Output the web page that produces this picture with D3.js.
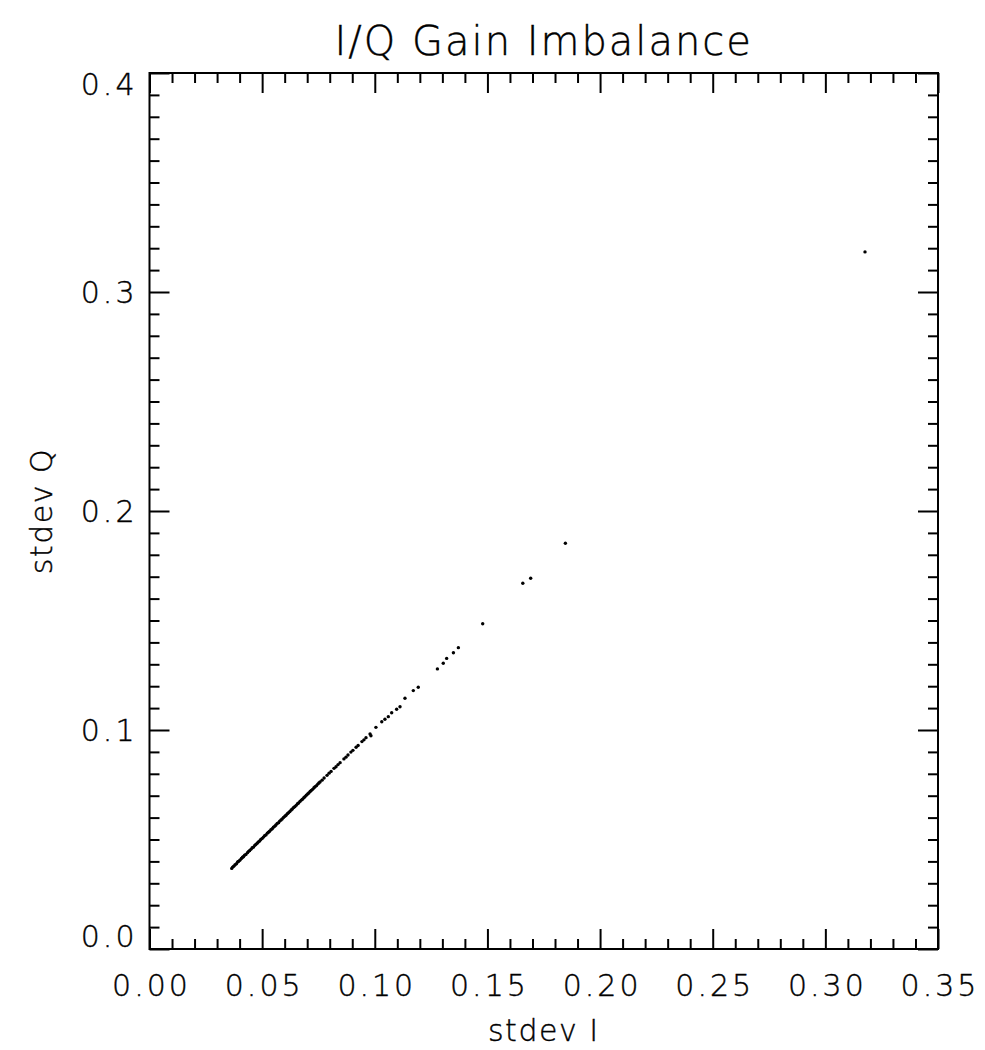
<!DOCTYPE html>
<html>
<head>
<meta charset="utf-8">
<script src="https://cdn.jsdelivr.net/npm/d3@7"></script>
<style>
  html, body { margin: 0; padding: 0; background: #fff; }
  svg { display: block; }
  text { font-family: "DejaVu Sans", "Liberation Sans", sans-serif; fill: #000; }
</style>
</head>
<body>
<svg id="chart" width="985" height="1050"></svg>
<script>
// ---- data ----
const chartTitle = "I/Q Gain Imbalance";
const xTitle = "stdev I";
const yTitle = "stdev Q";
const xTickValues = [0.00, 0.05, 0.10, 0.15, 0.20, 0.25, 0.30, 0.35];
const xTickLabels = ["0.00", "0.05", "0.10", "0.15", "0.20", "0.25", "0.30", "0.35"];
const yTickValues = [0.0, 0.1, 0.2, 0.3, 0.4];
const yTickLabels = ["0.0", "0.1", "0.2", "0.3", "0.4"];

// [stdev I, stdev Q] — dense part of the cloud
const lineCore = [
  [0.0365,0.0368],[0.0369,0.0374],[0.0374,0.0378],[0.0380,0.0385],[0.0386,0.0389],[0.0391,0.0397],
  [0.0395,0.0400],[0.0401,0.0405],[0.0408,0.0413],[0.0413,0.0419],[0.0417,0.0421],[0.0422,0.0428],
  [0.0428,0.0432],[0.0435,0.0440],[0.0440,0.0446],[0.0444,0.0449],[0.0450,0.0455],[0.0456,0.0462],
  [0.0461,0.0465],[0.0467,0.0473],[0.0472,0.0477],[0.0478,0.0483],[0.0483,0.0489],[0.0489,0.0493],
  [0.0494,0.0500],[0.0500,0.0505],[0.0506,0.0511],[0.0511,0.0517],[0.0517,0.0521],[0.0523,0.0529],
  [0.0528,0.0533],[0.0533,0.0538],[0.0539,0.0545],[0.0545,0.0549],[0.0550,0.0556],[0.0556,0.0561],
  [0.0561,0.0566],[0.0567,0.0573],[0.0573,0.0577],[0.0578,0.0584],[0.0584,0.0589],[0.0589,0.0594],
  [0.0595,0.0601],[0.0601,0.0606],[0.0606,0.0611],[0.0612,0.0618],[0.0617,0.0622],[0.0623,0.0628],
  [0.0629,0.0635],[0.0634,0.0639],[0.0640,0.0646],[0.0645,0.0650],[0.0651,0.0656],[0.0657,0.0663],
  [0.0662,0.0667],[0.0668,0.0674],[0.0674,0.0680],[0.0679,0.0684],[0.0685,0.0691],[0.0690,0.0695],
  [0.0696,0.0702],[0.0702,0.0708],[0.0707,0.0712],[0.0713,0.0719],[0.0718,0.0724],[0.0724,0.0729],
  [0.0730,0.0736],[0.0735,0.0741],[0.0741,0.0746],[0.0747,0.0753],[0.0752,0.0758]
];
// dashed-looking middle stretch
const lineMid = [
  [0.0757,0.0763],[0.0766,0.0771],[0.0775,0.0781],[0.0788,0.0793],[0.0797,0.0803],[0.0806,0.0811],
  [0.0819,0.0825],[0.0828,0.0832],[0.0837,0.0842],[0.0846,0.0851],[0.0863,0.0868],[0.0872,0.0876],
  [0.0881,0.0886],[0.0894,0.0899],[0.0903,0.0907],[0.0917,0.0921],[0.0926,0.0929],[0.0943,0.0947],
  [0.0952,0.0955],[0.0961,0.0965],[0.0979,0.0982]
];
// sparse upper points
const lineSparse = [
  [0.0983,0.0974],[0.1005,0.1012],[0.1031,0.1038],[0.1045,0.1049],[0.1060,0.1061],[0.1075,0.1079],
  [0.1097,0.1095],[0.1112,0.1106],[0.1134,0.1145],[0.1171,0.1180],[0.1193,0.1195],[0.1278,0.1279],
  [0.1304,0.1305],[0.1319,0.1327],[0.1349,0.1353],[0.1371,0.1376],[0.1479,0.1485],[0.1657,0.1670],
  [0.1692,0.1693],[0.1846,0.1853],[0.3176,0.3183]
];

// ---- layout ----
const svg = d3.select("#chart");
const L = 149.5, R = 938, T = 73, B = 949;
const x = d3.scaleLinear().domain([0, 0.35]).range([L, R]);
const y = d3.scaleLinear().domain([0, 0.4]).range([B, T]);

const xMinor = d3.range(0, 36).map(d => d / 100).filter(v => Math.round(v * 100) % 5 !== 0);
const yMinor = d3.range(0, 41).map(d => d / 100).filter(v => Math.round(v * 100) % 10 !== 0);

const majorLen = 20, minorLen = 10;
const fontTick = 30;

function styleAxis(g) {
  g.select(".domain").remove();
  g.selectAll(".tick line").attr("stroke", "#000").attr("stroke-width", 2);
}

// bottom axis (major with labels)
const gB = svg.append("g").attr("transform", `translate(0,${B})`)
  .call(d3.axisBottom(x).tickValues(xTickValues).tickFormat((d, i) => xTickLabels[i])
    .tickSizeInner(-majorLen).tickSizeOuter(0).tickPadding(26));
styleAxis(gB);
gB.selectAll("text").attr("font-size", fontTick).attr("letter-spacing", 3)
  .attr("font-family", "DejaVu Sans").attr("font-weight", 200).attr("dx", 1.5)
  .attr("stroke", "#000").attr("stroke-width", 0.4);
svg.append("g").attr("transform", `translate(0,${B})`)
  .call(d3.axisBottom(x).tickValues(xMinor).tickFormat("").tickSizeInner(-minorLen).tickSizeOuter(0)).call(styleAxis);

// top axis
svg.append("g").attr("transform", `translate(0,${T})`)
  .call(d3.axisTop(x).tickValues(xTickValues).tickFormat("").tickSizeInner(-majorLen).tickSizeOuter(0)).call(styleAxis);
svg.append("g").attr("transform", `translate(0,${T})`)
  .call(d3.axisTop(x).tickValues(xMinor).tickFormat("").tickSizeInner(-minorLen).tickSizeOuter(0)).call(styleAxis);

// left axis (major with labels)
const gL = svg.append("g").attr("transform", `translate(${L},0)`)
  .call(d3.axisLeft(y).tickValues(yTickValues).tickFormat((d, i) => yTickLabels[i])
    .tickSizeInner(-majorLen).tickSizeOuter(0).tickPadding(12));
styleAxis(gL);
gL.selectAll("text").attr("font-size", fontTick).attr("letter-spacing", 3)
  .attr("font-family", "DejaVu Sans").attr("font-weight", 200)
  .attr("stroke", "#000").attr("stroke-width", 0.4)
  .attr("dy", d => d === 0 ? "-0.08em" : (d === 0.4 ? "0.72em" : "0.36em"));
svg.append("g").attr("transform", `translate(${L},0)`)
  .call(d3.axisLeft(y).tickValues(yMinor).tickFormat("").tickSizeInner(-minorLen).tickSizeOuter(0)).call(styleAxis);

// right axis
svg.append("g").attr("transform", `translate(${R},0)`)
  .call(d3.axisRight(y).tickValues(yTickValues).tickFormat("").tickSizeInner(-majorLen).tickSizeOuter(0)).call(styleAxis);
svg.append("g").attr("transform", `translate(${R},0)`)
  .call(d3.axisRight(y).tickValues(yMinor).tickFormat("").tickSizeInner(-minorLen).tickSizeOuter(0)).call(styleAxis);

// frame
svg.append("rect").attr("x", L).attr("y", T).attr("width", R - L).attr("height", B - T)
  .attr("fill", "none").attr("stroke", "#000").attr("stroke-width", 2);

// points
const allPts = lineCore.concat(lineMid, lineSparse);
svg.append("g").selectAll("circle").data(allPts).join("circle")
  .attr("cx", d => x(d[0])).attr("cy", d => y(d[1])).attr("r", 1.7).attr("fill", "#000");

// titles
svg.append("text").attr("x", (L + R) / 2).attr("y", 55).attr("text-anchor", "middle")
  .attr("font-size", 40).attr("font-weight", 200).attr("letter-spacing", 2)
  .attr("stroke", "#000").attr("stroke-width", 0.4).text(chartTitle);
svg.append("text").attr("x", (L + R) / 2).attr("y", 1041).attr("text-anchor", "middle")
  .attr("font-size", 30).attr("font-weight", 200).attr("letter-spacing", 1.5)
  .attr("stroke", "#000").attr("stroke-width", 0.4).text(xTitle);
svg.append("text").attr("transform", `translate(52,${(T + B) / 2}) rotate(-90)`).attr("text-anchor", "middle")
  .attr("font-size", 30).attr("font-weight", 200).attr("letter-spacing", 1.5)
  .attr("stroke", "#000").attr("stroke-width", 0.4).text(yTitle);
</script>
</body>
</html>
